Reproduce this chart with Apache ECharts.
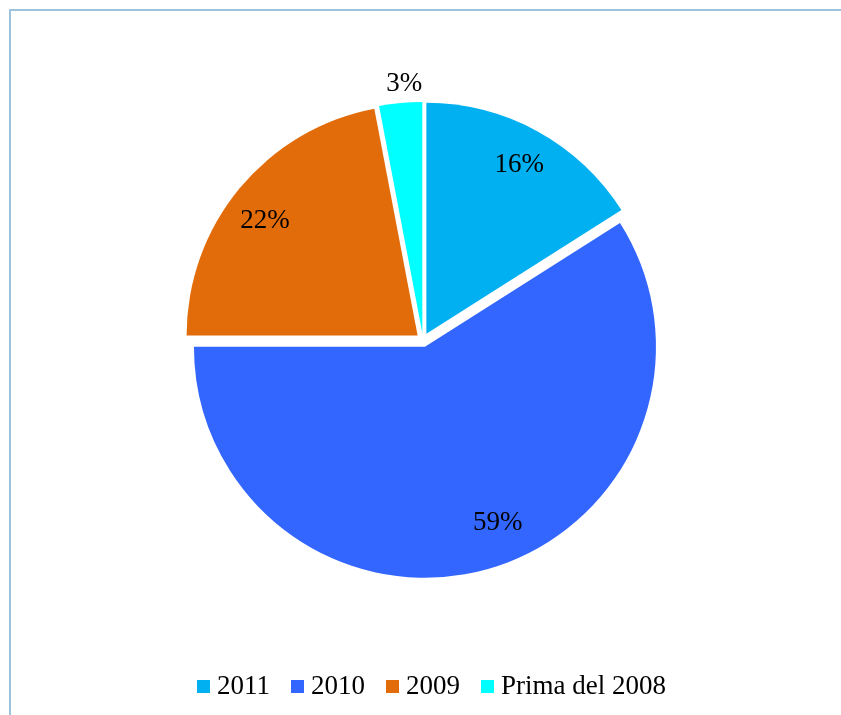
<!DOCTYPE html>
<html>
<head>
<meta charset="utf-8">
<script src="https://cdn.jsdelivr.net/npm/echarts@6/dist/echarts.min.js"></script>
<style>
  body { margin: 0; background: #fff; }
  #frame { position: absolute; left: 9px; top: 9px; width: 900px; height: 800px;
           border-left: 2px solid #9DC3DC; border-top: 2px solid #9DC3DC; }
  #main { position: absolute; left: 0; top: 0; width: 841px; height: 715px; }
</style>
</head>
<body>
<div id="frame"></div>
<div id="main"></div>
<script>
var categories = ['2011', '2010', '2009', 'Prima del 2008'];
var values = [16, 59, 22, 3];
var colors = ['#00B0F0', '#3366FF', '#E36C0A', '#00FFFF'];
// which labels sit inside the slice, which sit outside
var insideLabel = [true, true, true, false];
// small nudges of the labels: horizontal padding [right, left], vertical shift (px, down +)
var labelPadX = [[0, 0], [0, 38], [8, 0], [0, 12]];
var labelShiftY = [0, -9, 8, 5];

var myChart = echarts.init(document.getElementById('main'));

var pieCenter = [423, 340];

function labelFor(i, show) {
    var dy = labelShiftY[i];
    var lab = { show: show, padding: [0, labelPadX[i][0], 0, labelPadX[i][1]] };
    if (dy < 0) {
        lab.formatter = '{d}%\n';
        lab.lineHeight = -2 * dy;
    } else if (dy > 0) {
        lab.formatter = '\n{d}%';
        lab.lineHeight = 2 * dy;
    }
    return lab;
}

function buildData(showFn) {
    return categories.map(function (name, i) {
        return {
            name: name,
            value: values[i],
            label: labelFor(i, showFn(i))
        };
    });
}

option = {
    animation: false,
    legend: {
        left: 192,
        top: 668,
        itemWidth: 13,
        itemHeight: 13,
        itemGap: 21,
        icon: 'rect',
        textStyle: {
            fontFamily: 'Liberation Serif',
            fontSize: 27,
            color: '#000',
            padding: [0, 0, 0, 2]
        },
        data: categories
    },
    series: [
        {
            name: 'anni',
            type: 'pie',
            center: pieCenter,
            radius: 231,
            startAngle: 90,
            selectedMode: 'multiple',
            selectedOffset: 7,
            emphasis: { disabled: true },
            label: { show: false },
            labelLine: { show: false },
            data: categories.map(function (name, i) {
                return {
                    name: name,
                    value: values[i],
                    selected: true,
                    itemStyle: { color: colors[i] },
                    select: { itemStyle: { color: colors[i], borderWidth: 0 } }
                };
            })
        },
        {
            name: 'etichette',
            type: 'pie',
            center: pieCenter,
            radius: [163, 231],
            startAngle: 90,
            silent: true,
            avoidLabelOverlap: false,
            itemStyle: { color: 'rgba(0,0,0,0)' },
            label: {
                position: 'inside',
                formatter: '{d}%',
                fontFamily: 'Liberation Serif',
                fontSize: 27,
                color: '#000'
            },
            labelLine: { show: false },
            data: buildData(function (i) { return insideLabel[i]; })
        },
        {
            name: 'etichette esterne',
            type: 'pie',
            center: pieCenter,
            radius: [240, 278],
            startAngle: 90,
            silent: true,
            avoidLabelOverlap: false,
            itemStyle: { color: 'rgba(0,0,0,0)' },
            label: {
                position: 'inside',
                formatter: '{d}%',
                fontFamily: 'Liberation Serif',
                fontSize: 27,
                color: '#000'
            },
            labelLine: { show: false },
            data: buildData(function (i) { return !insideLabel[i]; })
        }
    ]
};
myChart.setOption(option);
</script>
</body>
</html>
